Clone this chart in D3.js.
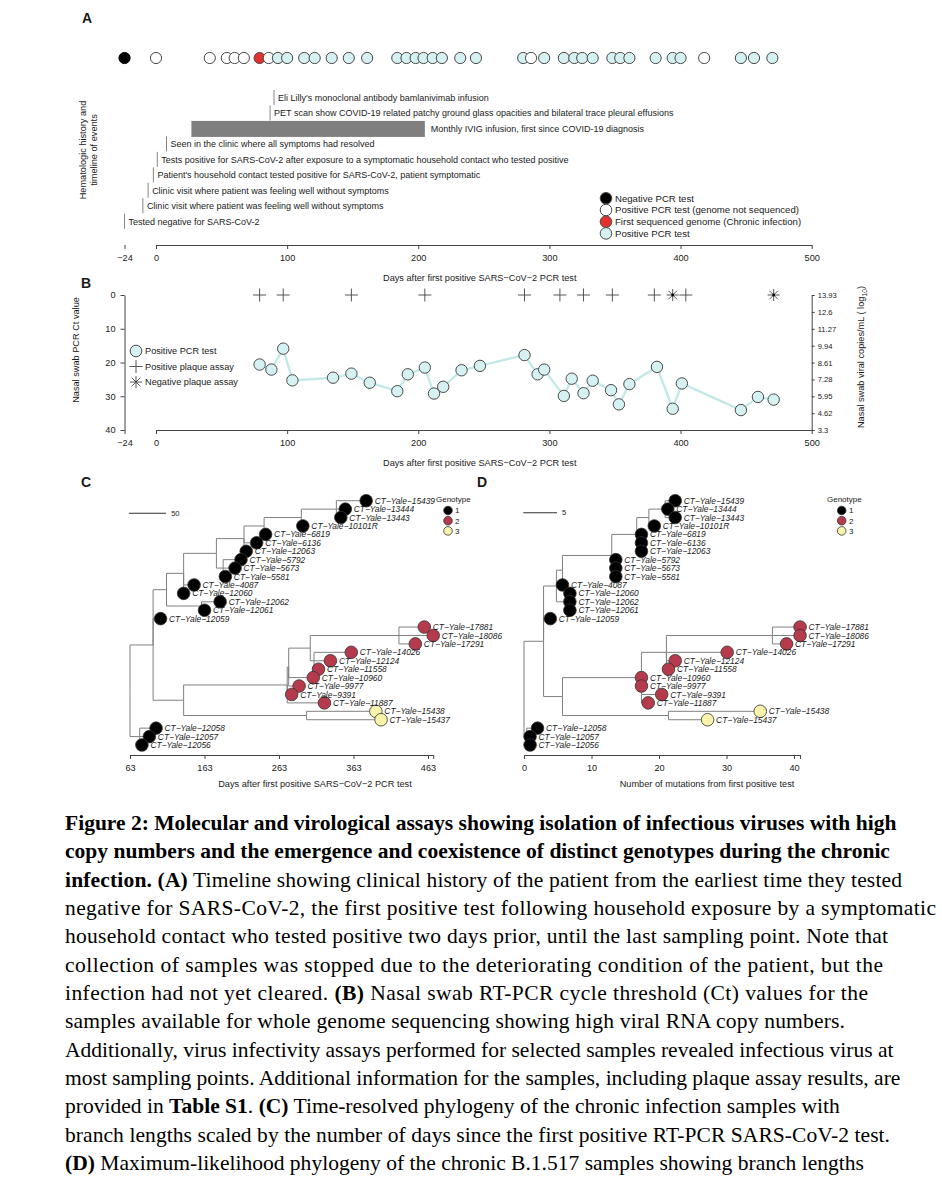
<!DOCTYPE html>
<meta charset="utf-8">
<script src="https://d3js.org/d3.v7.min.js"></script>
<style>
  body { margin: 0; background: #fff; }
  svg text { font-family: "Liberation Sans", Arial, Helvetica, sans-serif; fill: #1a1a1a; }
  svg text.cap, svg text.cap tspan { font-family: "Liberation Serif", "Times New Roman", serif; fill: #000; }
</style>
<div id="fig"></div>
<script>

// ---------- panel A : PCR tests and clinical events ----------
var aDays = [-24, 0, 41, 54, 60, 67, 79, 86, 93, 100, 113, 121, 134, 147, 161, 184, 191, 198,
             204, 211, 218, 232, 244, 280, 286, 296, 311, 319, 325, 333, 348, 354, 361, 381,
             394, 400, 418, 446, 456, 470];
var aType = ["neg", "ns", "ns", "ns", "ns", "ns", "first", "ns",
             "pos", "pos", "pos", "pos", "pos", "pos", "pos", "pos", "pos", "pos", "pos", "pos",
             "pos", "pos", "pos", "pos", "ns",
             "pos", "pos", "pos", "pos", "pos", "pos", "pos", "pos", "pos", "pos", "pos",
             "ns", "pos", "pos", "pos"];

var eventText = [
  "Eli Lilly's monoclonal antibody bamlanivimab infusion",
  "PET scan show COVID-19 related patchy ground glass opacities and bilateral trace pleural effusions",
  "Monthly IVIG infusion, first since COVID-19 diagnosis",
  "Seen in the clinic where all symptoms had resolved",
  "Tests positive for SARS-CoV-2 after exposure to a symptomatic household contact who tested positive",
  "Patient's household contact tested positive for SARS-CoV-2, patient symptomatic",
  "Clinic visit where patient was feeling well without symptoms",
  "Clinic visit where patient was feeling well without symptoms",
  "Tested negative for SARS-CoV-2"
];
var eventDay = [90, 87, 27, 8, 1, -2, -6, -10, -24];
var eventEnd = [null, null, 205, null, null, null, null, null, null];  // IVIG period is a bar

var legendAText = ["Negative PCR test", "Positive PCR test (genome not sequenced)",
                   "First sequenced genome (Chronic infection)", "Positive PCR test"];
var legendAType = ["neg", "ns", "first", "pos"];

var dayTicks = [-24, 0, 100, 200, 300, 400, 500];

// ---------- panel B : Ct values and plaque assays ----------
var bDays = [79, 88, 97, 104, 135, 149, 163, 184, 192, 205, 212, 219, 233, 247, 281, 291, 296,
             311, 317, 326, 333, 347, 353, 361, 382, 394, 401, 446, 459, 471];
var bCt = [20.6, 22.1, 15.9, 25.3, 24.5, 23.3, 26.0, 28.5, 23.5, 21.5, 29.2, 27.2, 22.3, 21.0,
           17.8, 23.5, 22.1, 29.9, 24.8, 29.1, 25.4, 28.2, 32.4, 26.4, 21.3, 33.7, 26.2, 34.1,
           30.2, 31.0];
var plusDays = [79, 97, 149, 205, 281, 308, 326, 348, 380, 404];
var starDays = [394, 471];
var ctTicks = [0, 10, 20, 30, 40];
var copyTicks = [13.93, 12.6, 11.27, 9.94, 8.61, 7.28, 5.95, 4.62, 3.3];

// ---------- panels C and D : phylogenies ----------
var tipNames = ["15439", "13444", "13443", "10101R", "6819", "6136", "12063", "5792", "5673",
                "5581", "4087", "12060", "12062", "12061", "12059", "17881", "18086", "17291",
                "14026", "12124", "11558", "10960", "9977", "9391", "11887", "15438", "15437",
                "12058", "12057", "12056"];
var tipGenotype = [1, 1, 1, 1, 1, 1, 1, 1, 1, 1, 1, 1, 1, 1, 1,
                   2, 2, 2, 2, 2, 2, 2, 2, 2, 2, 3, 3, 1, 1, 1];

// C: time-resolved tree (days after first positive test)
var cTipParent = ["c8", "c8", "c8", "c7", "c6", "c5", "c5", "c3b", "c3b", "c3b", "c2", "c2",
                  "c1b", "c1b", "cA", "g2c", "g2c", "g2c", "g2d", "g2d", "g2d", "g2a", "g2a",
                  "g2", "g2", "g3", "g3", "cB", "cB", "cB"];
var cTipDays = [380, 352, 346, 295, 245, 233, 219, 212, 204, 191, 149, 135, 184, 163, 104,
                458, 470, 446, 360, 332, 316, 309, 290, 280, 324, 393, 400, 98, 89, 79];
var cInner = ["c8", "c7", "c6", "c5", "c3b", "c3", "c2", "c1b", "c1", "g2c", "g2d", "g2b",
              "g2a", "g2", "g3", "cA2", "cA", "cB", "cRoot"];
var cInnerParent = ["c7", "c6", "c5", "c3", "c3", "c2", "c1", "c1", "cA", "g2b", "g2b", "g2a",
                    "g2", "cA2", "cA2", "cA", "cRoot", "cRoot", null];
var cInnerDays = [340, 293, 243, 216, 188, 179, 135, 159, 112, 424, 310, 305, 276, 274, 300,
                  135, 94, 76, 63];
var cTicks = [63, 163, 263, 363, 463];

// D: maximum-likelihood tree (mutations from first positive test)
var dTipParent = ["d7", "d7", "d7", "d6", "d5", "d5", "d5", "d4", "d4", "d4", "d3", "d2",
                  "d2", "d2", "dA", "e4", "e4", "e4", "e3", "e3", "e3", "e2", "e2", "e2", "e2",
                  "e5", "e5", "dB", "dB", "dB"];
var dTipMuts = [22.4, 21.3, 22.4, 19.3, 17.4, 17.4, 17.4, 13.6, 13.6, 13.6, 5.7, 6.8, 6.8,
                6.8, 3.9, 40.9, 40.9, 38.9, 30.1, 22.4, 21.4, 17.4, 17.4, 20.4, 18.4, 35.0,
                27.2, 2.0, 0.9, 0.9];
var dInner = ["d7", "d6", "d5", "d4", "d3", "d2", "d1", "e4", "e3", "e2", "e5", "e1", "dA",
              "dB", "dRoot"];
var dInnerParent = ["d6", "d5", "d4", "d3", "d1", "d1", "dA", "e3", "e2", "e1", "e1", "dA",
                    "dRoot", "dRoot", null];
var dInnerMuts = [20.9, 18.5, 16.7, 13.0, 5.7, 6.4, 4.8, 36.8, 21.1, 17.4, 21.4, 5.7, 2.9,
                  0.4, 0];
var dTicks = [0, 10, 20, 30, 40];

// ---------- caption ----------
var captionLines = [
  "**Figure 2: Molecular and virological assays showing isolation of infectious viruses with high**",
  "**copy numbers and the emergence and coexistence of distinct genotypes during the chronic**",
  "**infection. (A)** Timeline showing clinical history of the patient from the earliest time they tested",
  "negative for SARS-CoV-2, the first positive test following household exposure by a symptomatic",
  "household contact who tested positive two days prior, until the last sampling point. Note that",
  "collection of samples was stopped due to the deteriorating condition of the patient, but the",
  "infection had not yet cleared. **(B)** Nasal swab RT-PCR cycle threshold (Ct) values for the",
  "samples available for whole genome sequencing showing high viral RNA copy numbers.",
  "Additionally, virus infectivity assays performed for selected samples revealed infectious virus at",
  "most sampling points. Additional information for the samples, including plaque assay results, are",
  "provided in **Table S1**. **(C)** Time-resolved phylogeny of the chronic infection samples with",
  "branch lengths scaled by the number of days since the first positive RT-PCR SARS-CoV-2 test.",
  "**(D)** Maximum-likelihood phylogeny of the chronic B.1.517 samples showing branch lengths"
];

// =====================================================================
var svg = d3.select("#fig").append("svg")
    .attr("width", 942)
    .attr("height", 1200);

var testFill = {neg: "#000000", ns: "#ffffff", first: "#e3312d", pos: "#d6f1f1"};
var genoFill = {1: "#000000", 2: "#b53a4c", 3: "#f7f3aa"};
var minus = function(d) { return d < 0 ? "\u2212" + (-d) : d; };
var fs = 9.2;   // base chart text size

function styleAxis(g, size) {
  g.attr("font-size", size).attr("font-family", null).style("color", "#444");
  g.selectAll("text").style("fill", "#1a1a1a");
}

function panelLabel(t, x, y) {
  svg.append("text").attr("x", x).attr("y", y).attr("font-size", 14)
    .attr("font-weight", "bold").text(t);
}

// ---------------- panel A ----------------
var x = d3.scaleLinear().domain([0, 500]).range([156, 811.7]);
panelLabel("A", 82, 23);

svg.append("g").selectAll("circle")
  .data(aDays)
  .enter().append("circle")
    .attr("cx", function(d) { return x(d); })
    .attr("cy", 58)
    .attr("r", 5.6)
    .attr("fill", function(d, i) { return testFill[aType[i]]; })
    .attr("stroke", function(d, i) { return aType[i] == "neg" ? "#000" : "#4a4a4a"; })
    .attr("stroke-width", 1);

var evRow = d3.scaleLinear().domain([0, eventText.length - 1]).range([98, 221.7]);
var ev = svg.append("g").selectAll("g")
  .data(eventText)
  .enter().append("g");
ev.each(function(d, i) {
  var g = d3.select(this), yy = evRow(i);
  if (eventEnd[i] != null) {
    g.append("rect")
      .attr("x", x(eventDay[i])).attr("y", yy - 8)
      .attr("width", x(eventEnd[i]) - x(eventDay[i])).attr("height", 16)
      .attr("fill", "#7f7f7f");
    g.append("text").attr("x", x(eventEnd[i]) + 6).attr("y", yy + 3)
      .attr("font-size", 9).text(d);
  } else {
    g.append("line")
      .attr("x1", x(eventDay[i])).attr("x2", x(eventDay[i]))
      .attr("y1", yy - 8).attr("y2", yy + 7)
      .attr("stroke", "#777").attr("stroke-width", 0.9);
    g.append("text").attr("x", x(eventDay[i]) + 4).attr("y", yy + 3)
      .attr("font-size", 9).text(d);
  }
});

var ylabA = svg.append("text")
  .attr("transform", "translate(86,150) rotate(-90)")
  .attr("text-anchor", "middle").attr("font-size", fs);
ylabA.append("tspan").attr("x", 0).attr("dy", 0).text("Hematologic history and");
ylabA.append("tspan").attr("x", 0).attr("dy", 10.5).text("timeline of events");

var legA = svg.append("g").selectAll("g")
  .data(legendAText)
  .enter().append("g")
    .attr("transform", function(d, i) { return "translate(606," + (198.3 + i * 11.7) + ")"; });
legA.append("circle").attr("r", 5.8)
  .attr("fill", function(d, i) { return testFill[legendAType[i]]; })
  .attr("stroke", "#4a4a4a").attr("stroke-width", 1);
legA.append("text").attr("x", 9).attr("y", 3.4).attr("font-size", 9.6).text(function(d) { return d; });

var axA = svg.append("g")
  .attr("transform", "translate(0,245)")
  .call(d3.axisBottom(x).tickValues(dayTicks).tickSize(4).tickSizeOuter(0)
        .tickPadding(5).tickFormat(minus));
styleAxis(axA, fs);
svg.append("text").attr("x", 383).attr("y", 281).attr("font-size", fs)
  .text("Days after first positive SARS\u2212CoV\u22122 PCR test");

// ---------------- panel B ----------------
var yB = d3.scaleLinear().domain([0, 40]).range([295, 430]);
var yR = d3.scaleLinear().domain([3.3, 13.93]).range([430, 295]);
panelLabel("B", 81, 288);

var axBL = svg.append("g")
  .attr("transform", "translate(" + x(-24) + ",0)")
  .call(d3.axisLeft(yB).tickValues(ctTicks).tickSize(4).tickSizeOuter(0).tickPadding(5));
styleAxis(axBL, fs);
var axBB = svg.append("g")
  .attr("transform", "translate(0,430)")
  .call(d3.axisBottom(x).tickValues(dayTicks).tickSize(4).tickSizeOuter(0)
        .tickPadding(5).tickFormat(minus));
styleAxis(axBB, fs);
var axBR = svg.append("g")
  .attr("transform", "translate(" + x(500) + ",0)")
  .call(d3.axisRight(yR).tickValues(copyTicks).tickSize(3).tickSizeOuter(0).tickPadding(3)
        .tickFormat(function(d) { return d; }));
styleAxis(axBR, 7.6);

svg.append("text").attr("transform", "translate(79,350) rotate(-90)")
  .attr("text-anchor", "middle").attr("font-size", fs).text("Nasal swab PCR Ct value");
var rl = svg.append("text").attr("transform", "translate(864,357) rotate(-90)")
  .attr("text-anchor", "middle").attr("font-size", fs);
rl.append("tspan").text("Nasal swab viral copies/mL ( log");
rl.append("tspan").attr("font-size", 6.8).attr("dy", 2.5).text("10");
rl.append("tspan").attr("dy", -2.5).text(")");
svg.append("text").attr("x", 383).attr("y", 466).attr("font-size", fs)
  .text("Days after first positive SARS\u2212CoV\u22122 PCR test");

var ctLine = d3.line()
  .x(function(d, i) { return x(bDays[i]); })
  .y(function(d) { return yB(d); });
svg.append("path").datum(bCt)
  .attr("d", ctLine)
  .attr("fill", "none").attr("stroke", "#c3e9e9").attr("stroke-width", 2.4);
svg.append("g").selectAll("circle")
  .data(bCt)
  .enter().append("circle")
    .attr("cx", function(d, i) { return x(bDays[i]); })
    .attr("cy", function(d) { return yB(d); })
    .attr("r", 5.7)
    .attr("fill", testFill.pos).attr("stroke", "#4a4a4a").attr("stroke-width", 1);

var plusPath = "M-6.5,0H6.5M0,-6.5V6.5";
var starPath = "M-6,0H6M0,-6V6M-4.3,-4.3L4.3,4.3M-4.3,4.3L4.3,-4.3";
svg.append("g").selectAll("path")
  .data(plusDays)
  .enter().append("path")
    .attr("transform", function(d) { return "translate(" + x(d) + "," + yB(0) + ")"; })
    .attr("d", plusPath).attr("stroke", "#444").attr("stroke-width", 0.9);
var stars = svg.append("g").selectAll("g")
  .data(starDays)
  .enter().append("g")
    .attr("transform", function(d) { return "translate(" + x(d) + "," + yB(0) + ")"; });
stars.append("path").attr("d", starPath).attr("stroke", "#444").attr("stroke-width", 0.9);
stars.append("circle").attr("r", 1.4).attr("fill", "#000");

// legend B
var legB = svg.append("g").attr("transform", "translate(136,351)");
legB.append("circle").attr("r", 5.8).attr("fill", testFill.pos).attr("stroke", "#4a4a4a").attr("stroke-width", 1);
legB.append("path").attr("transform", "translate(0,15.5)").attr("d", plusPath).attr("stroke", "#444").attr("stroke-width", 0.9);
legB.append("path").attr("transform", "translate(0,31)").attr("d", starPath).attr("stroke", "#444").attr("stroke-width", 0.9);
legB.append("text").attr("x", 9).attr("y", 3.3).attr("font-size", fs).text("Positive PCR test");
legB.append("text").attr("x", 9).attr("y", 18.8).attr("font-size", fs).text("Positive plaque assay");
legB.append("text").attr("x", 9).attr("y", 34.3).attr("font-size", fs).text("Negative plaque assay");

// ---------------- panels C and D ----------------
var yRow = d3.scaleLinear().domain([0, tipNames.length - 1]).range([500.7, 745]);

function buildTree(tipParent, tipVal, inner, innerParent, innerVal) {
  var rows = tipNames.map(function(n, i) { return {id: n, parent: tipParent[i], v: tipVal[i], tip: i}; })
    .concat(inner.map(function(n, i) { return {id: n, parent: innerParent[i], v: innerVal[i]}; }));
  var root = d3.stratify()
    .id(function(d) { return d.id; })
    .parentId(function(d) { return d.parent; })(rows);
  root.eachAfter(function(n) {
    if (!n.children) n.row = n.data.tip;
    else {
      var r = n.children.map(function(c) { return c.row; });
      n.row = (d3.min(r) + d3.max(r)) / 2;
    }
  });
  return root;
}

function drawTree(root, xs, ticks, axisTitle, titleX) {
  var g = svg.append("g");
  g.selectAll("path.branch")
    .data(root.links())
    .enter().append("path")
      .attr("class", "branch")
      .attr("d", function(l) {
        return "M" + xs(l.source.data.v) + "," + yRow(l.source.row) +
               "V" + yRow(l.target.row) + "H" + xs(l.target.data.v);
      })
      .attr("fill", "none").attr("stroke", "#808080").attr("stroke-width", 1);
  var leaves = root.leaves().sort(function(a, b) { return a.row - b.row; });
  g.selectAll("circle")
    .data(leaves)
    .enter().append("circle")
      .attr("cx", function(d) { return xs(d.data.v); })
      .attr("cy", function(d) { return yRow(d.row); })
      .attr("r", 6.3)
      .attr("fill", function(d) { return genoFill[tipGenotype[d.row]]; })
      .attr("stroke", "#333").attr("stroke-width", 0.8);
  g.selectAll("text.tip")
    .data(leaves)
    .enter().append("text")
      .attr("class", "tip")
      .attr("x", function(d) { return xs(d.data.v) + 8.5; })
      .attr("y", function(d) { return yRow(d.row) + 3.1; })
      .attr("font-size", 8.4).attr("font-style", "italic")
      .text(function(d) { return "CT\u2212Yale\u2212" + d.id; });

  var ax = svg.append("g")
    .attr("transform", "translate(0,755)")
    .call(d3.axisBottom(xs).tickValues(ticks.concat([xs.domain()[1]])).tickSize(4)
          .tickSizeOuter(0).tickPadding(5)
          .tickFormat(function(d, i) { return i < ticks.length ? d : ""; }));
  styleAxis(ax, fs);
  svg.append("text").attr("x", titleX).attr("y", 787).attr("text-anchor", "middle")
    .attr("font-size", fs).text(axisTitle);
}

function genotypeLegend(xt, xc, xn) {
  svg.append("text").attr("x", xt).attr("y", 502).attr("font-size", 8).text("Genotype");
  [1, 2, 3].forEach(function(k, i) {
    svg.append("circle").attr("cx", xc).attr("cy", 510.5 + i * 10.2).attr("r", 4.3)
      .attr("fill", genoFill[k]).attr("stroke", "#333").attr("stroke-width", 0.8);
    svg.append("text").attr("x", xn).attr("y", 513.4 + i * 10.2).attr("font-size", 8).text(k);
  });
}

function scaleBar(xs, v0, len, yy, label) {
  svg.append("line").attr("x1", xs(v0)).attr("x2", xs(v0 + len))
    .attr("y1", yy).attr("y2", yy).attr("stroke", "#333").attr("stroke-width", 1.1);
  svg.append("text").attr("x", xs(v0 + len) + 5).attr("y", yy + 2.6).attr("font-size", 7.6).text(label);
}

// C
var xC = d3.scaleLinear().domain([63, 470]).range([130, 130 + 407 * 0.745]);
panelLabel("C", 81, 487);
drawTree(buildTree(cTipParent, cTipDays, cInner, cInnerParent, cInnerDays), xC, cTicks,
         "Days after first positive SARS\u2212CoV\u22122 PCR test", 315);
scaleBar(xC, 61.5, 50, 513.3, "50");
genotypeLegend(436, 448, 455);

// D
var xD = d3.scaleLinear().domain([0, 40.9]).range([524, 524 + 40.9 * 6.75]);
panelLabel("D", 477, 487);
drawTree(buildTree(dTipParent, dTipMuts, dInner, dInnerParent, dInnerMuts), xD, dTicks,
         "Number of mutations from first positive test", 707);
scaleBar(xD, -0.1, 5, 512.7, "5");
genotypeLegend(827, 841.7, 849);

// ---------------- caption ----------------
// right-hand end of each printed line in the figure (the source text is set loosely)
var captionEnds = [898, 888, 902, 936, 888, 883, 868, 845, 895, 902, 843, 890, 863];
var cap = svg.append("g");
captionLines.forEach(function(line, i) {
  var t = cap.append("text").attr("class", "cap")
    .attr("x", 65).attr("y", 830 + i * 28.33).attr("font-size", 20);
  line.split("**").forEach(function(seg, j) {
    if (seg) t.append("tspan").attr("font-weight", j % 2 ? "bold" : null).text(seg);
  });
});
// fit the type size so the 10th line ends where it does in the figure
var capTexts = cap.selectAll("text");
var w10 = capTexts.nodes()[9].getComputedTextLength();
capTexts.attr("font-size", 20 * 836 / w10);
// then spread the letters of lines that run longer in the figure
capTexts.each(function(d, i) {
  var w = this.getComputedTextLength();
  var n = captionLines[i].replace(/\*\*/g, "").length - 1;
  var extra = (captionEnds[i] - 65 - w) / n;
  if (extra > 0.05) d3.select(this).attr("letter-spacing", extra);
});

</script>
